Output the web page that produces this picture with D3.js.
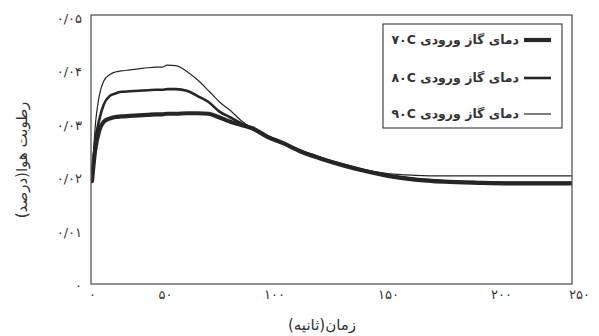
<!DOCTYPE html>
<html><head><meta charset="utf-8">
<script src="https://cdn.jsdelivr.net/npm/d3@7"></script>
<style>
body{margin:0;background:#fff;}
text{font-family:"DejaVu Sans",sans-serif;fill:#333;}
</style></head>
<body><svg id="c" width="599" height="336"></svg>
<script>
// ---- data ----
const time = [0,2,5,8,12,16,20,26,32,38,44,48,51,55,60,65,70,75,80,85,90,97,104,112,120,130,140,150,162,175,190,205,220,235,246];
const rh70 = [0.0195,0.0250,0.0290,0.0306,0.0312,0.0315,0.0316,0.0317,0.0318,0.0319,0.0320,0.0320,0.0321,0.0321,0.0322,0.0322,0.0321,0.0314,0.0306,0.0300,0.0294,0.0278,0.0266,0.0250,0.0238,0.0225,0.0214,0.0205,0.0198,0.0194,0.0192,0.0191,0.0191,0.0191,0.0191];
const rh80 = [0.0195,0.0265,0.0310,0.0338,0.0354,0.0359,0.0362,0.0363,0.0364,0.0365,0.0366,0.0366,0.0367,0.0367,0.0364,0.0354,0.0343,0.0325,0.0314,0.0303,0.0293,0.0279,0.0266,0.0251,0.0239,0.0226,0.0215,0.0206,0.0199,0.0195,0.0193,0.0192,0.0192,0.0192,0.0192];
const rh90 = [0.0195,0.0290,0.0355,0.0382,0.0394,0.0399,0.0401,0.0403,0.0405,0.0407,0.0408,0.0408,0.0412,0.0411,0.0400,0.0384,0.0364,0.0343,0.0327,0.0308,0.0294,0.0280,0.0267,0.0252,0.0240,0.0227,0.0216,0.0209,0.0206,0.0205,0.0205,0.0205,0.0205,0.0205,0.0205];
const seriesNames = ["دمای گاز ورودی ۷۰C","دمای گاز ورودی ۸۰C","دمای گاز ورودی ۹۰C"];
const xTicks = [0,50,100,150,200,250];
const xTickLabels = ["۰","۵۰","۱۰۰","۱۵۰","۲۰۰","۲۵۰"];
const yTicks = [0,0.01,0.02,0.03,0.04,0.05];
const yTickLabels = ["۰","۰/۰۱","۰/۰۲","۰/۰۳","۰/۰۴","۰/۰۵"];
const xTitle = "زمان(ثانیه)";
const yTitle = "رطوبت هوا(درصد)";

// ---- layout ----
const L=91,R=572,T=15,B=284;
const svg=d3.select("#c");
// the printed axis is not evenly spaced; piecewise linear scale follows the printed tick positions
const x=d3.scaleLinear().domain(xTicks).range([92,165,274,388,501,579]);
const y=d3.scaleLinear().domain([0,0.05]).range([285.5,18]);

svg.append("clipPath").attr("id","clip").append("rect").attr("x",L).attr("y",T).attr("width",R-L).attr("height",B-T);

const widths=[4.2,2.6,1.2];
const data=[rh70,rh80,rh90];
const line=d3.line().x((d,i)=>x(time[i])).y(d=>y(d)).curve(d3.curveMonotoneX);
const g=svg.append("g").attr("clip-path","url(#clip)");
data.forEach((s,k)=>{
  g.append("path").attr("d",line(s)).attr("fill","none").attr("stroke","#262626")
   .attr("stroke-width",widths[k]).attr("stroke-linejoin","round").attr("stroke-linecap","round");
});

svg.append("rect").attr("x",L).attr("y",T).attr("width",R-L).attr("height",B-T)
  .attr("fill","none").attr("stroke","#555").attr("stroke-width",1.3);

const xa=svg.append("g").attr("transform",`translate(0,${B})`)
  .call(d3.axisBottom(x).tickValues(xTicks).tickSize(0).tickPadding(6).tickFormat((d,i)=>xTickLabels[i]));
xa.select(".domain").remove();
xa.selectAll("text").attr("font-size",13).attr("letter-spacing",2).attr("fill","#555").style("font-family","DejaVu Sans");

const ya=svg.append("g").attr("transform",`translate(${L},0)`)
  .call(d3.axisLeft(y).tickValues(yTicks).tickSize(0).tickPadding(9).tickFormat((d,i)=>yTickLabels[i]));
ya.select(".domain").remove();
ya.selectAll("text").attr("font-size",13).attr("letter-spacing",1.5).attr("fill","#555").style("font-family","DejaVu Sans");

svg.append("text").attr("x",322).attr("y",330).attr("text-anchor","middle").attr("direction","rtl")
  .style("direction","rtl").attr("font-size",15).text(xTitle);
svg.append("text").attr("transform","translate(27,160) rotate(-90)").attr("text-anchor","middle")
  .attr("direction","rtl").style("direction","rtl").attr("font-size",15).text(yTitle);

// legend
svg.append("rect").attr("x",383).attr("y",24).attr("width",179).attr("height",104)
  .attr("fill","#fff").attr("stroke","#444").attr("stroke-width",1.2);
const ly=[40,78,114];
seriesNames.forEach((n,k)=>{
  svg.append("line").attr("x1",524).attr("x2",551).attr("y1",ly[k]).attr("y2",ly[k])
    .attr("stroke","#262626").attr("stroke-width",widths[k]);
  svg.append("text").attr("x",519).attr("y",ly[k]+4).attr("text-anchor","start")
    .attr("direction","rtl").style("direction","rtl").attr("font-size",12.5).attr("font-weight","bold")
    .attr("fill","#222").text(n);
});
</script></body></html>
